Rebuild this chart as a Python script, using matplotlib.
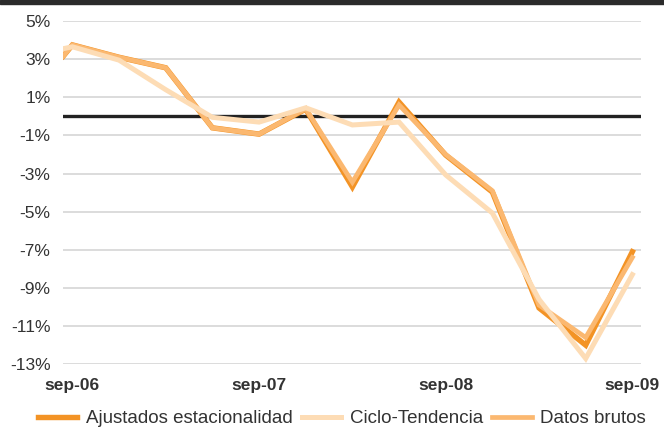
import numpy as np
import matplotlib
matplotlib.use("Agg")
import matplotlib.pyplot as plt
from matplotlib.patches import Rectangle

# datos trimestrales (%), sep-06 .. sep-09 (primer punto: arranque de la serie)
x_trim = np.array([-0.2, 0, 1, 2, 3, 4, 5, 6, 7, 8, 9, 10, 11, 12])
ajustados = [3.15, 3.75, 3.1, 2.55, -0.6, -0.93, 0.38, -3.7, 0.75, -2.03, -3.97, -10.05, -12.0, -7.1]
ciclo = [3.55, 3.65, 2.95, 1.4, -0.05, -0.3, 0.45, -0.45, -0.3, -3.07, -5.07, -9.6, -12.7, -8.3]
brutos = [3.15, 3.75, 3.1, 2.55, -0.6, -0.93, 0.4, -3.45, 0.6, -2.0, -3.9, -9.9, -11.6, -7.4]

tick_pos = [0, 4, 8, 12]
tick_lab = ["sep-06", "sep-07", "sep-08", "sep-09"]
y_ticks = list(range(-13, 6, 2))

plt.rcParams["font.family"] = ["Liberation Sans", "DejaVu Sans"]
txt = "#333333"

fig = plt.figure(figsize=(6.64, 4.30), dpi=100)
ax = fig.add_axes([0.095, 0.153, 0.87, 0.798])

for v in y_ticks:
    ax.axhline(v, color="#d9d9d9", lw=1.3, zorder=1)
ax.axhline(0, color="#222222", lw=2.4, zorder=2)

ax.plot(x_trim, ajustados, color="#f39325", lw=3.9, zorder=3,
        solid_joinstyle="miter", label="Ajustados estacionalidad")
ax.plot(x_trim, ciclo, color="#fddcb5", lw=3.6, zorder=5,
        solid_joinstyle="miter", label="Ciclo-Tendencia")
ax.plot(x_trim, brutos, color="#fbb870", lw=3.4, zorder=4,
        solid_joinstyle="miter", label="Datos brutos")

ax.set_xlim(-0.2, 12.18)
ax.set_ylim(-13, 5)
ax.set_yticks(y_ticks)
ax.set_yticklabels([f"{v}%" for v in y_ticks], fontsize=12.5, color=txt)
ax.set_xticks(tick_pos)
ax.set_xticklabels(tick_lab, fontsize=12.5, fontweight="bold", color=txt)
ax.tick_params(axis="both", length=0)
ax.tick_params(axis="y", pad=9)
ax.tick_params(axis="x", pad=10)
for s in ax.spines.values():
    s.set_visible(False)

fig.legend(loc="center", bbox_to_anchor=(0.515, 0.026), ncol=3, frameon=False,
           fontsize=13.5, handlelength=2.1, columnspacing=0.5, handletextpad=0.45,
           labelcolor=txt)

fig.add_artist(Rectangle((0, 1 - 4 / 430), 1, 4 / 430, transform=fig.transFigure,
                         color="#2b2b2b"))

fig.savefig("out.png", dpi=100)
